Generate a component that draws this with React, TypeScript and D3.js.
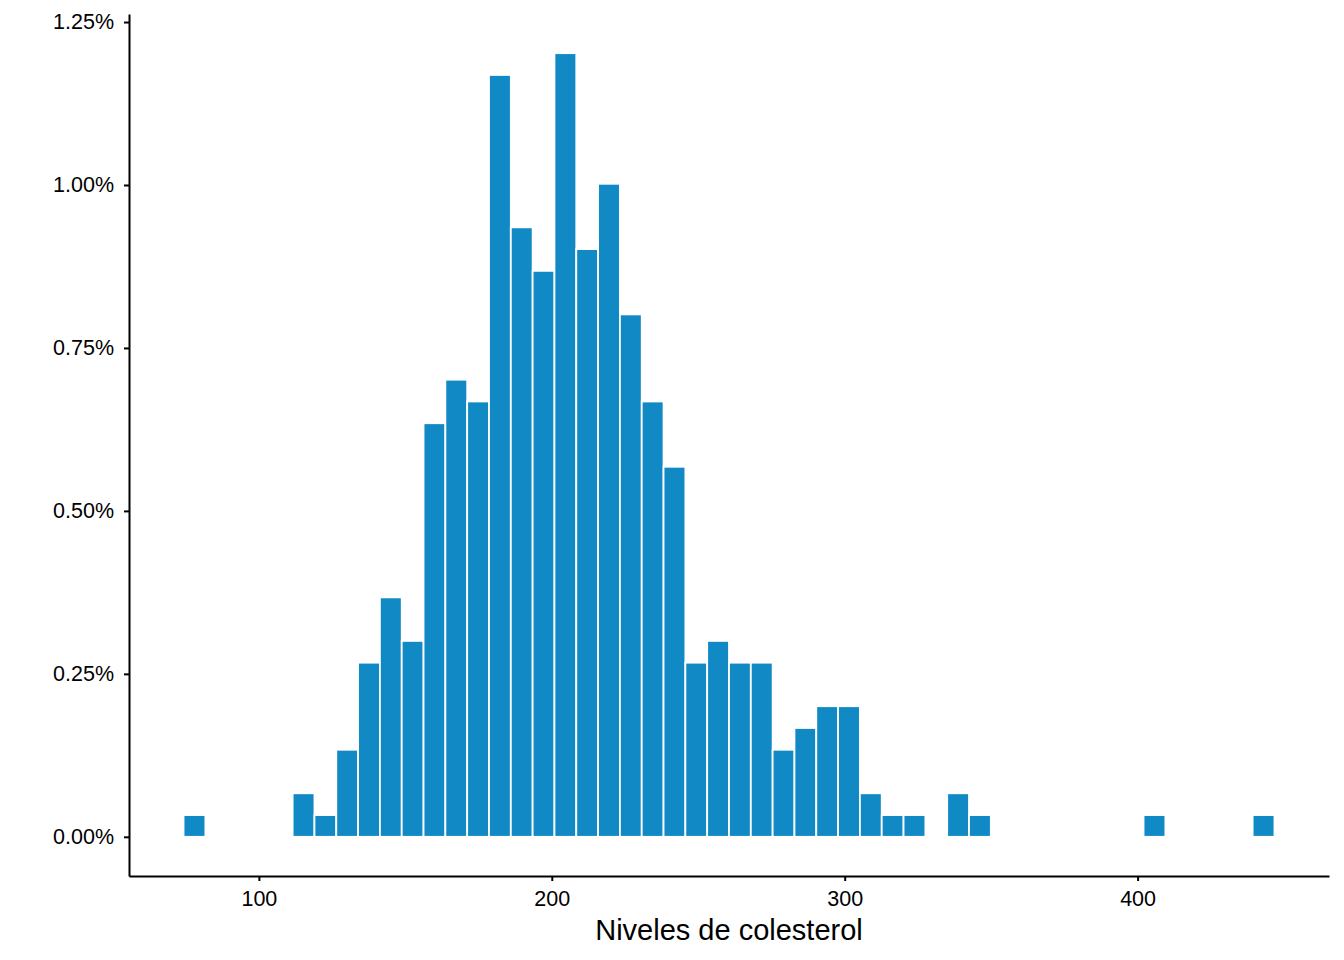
import { useEffect, useRef } from 'react';
import * as d3 from 'd3';

// histogram of cholesterol levels, 50 bins between min and max
const cholMin = 78;
const cholMax = 443;
const binTotal = 50;
const binCounts = [
  1, 0, 0, 0, 0, 2, 1, 4, 8, 11,
  9, 19, 21, 20, 35, 28, 26, 36, 27, 30,
  24, 20, 17, 8, 9, 8, 8, 4, 5, 6,
  6, 2, 1, 1, 0, 2, 1, 0, 0, 0,
  0, 0, 0, 0, 1, 0, 0, 0, 0, 1,
];
const xTicks = [100, 200, 300, 400];
const yTicks = [0, 0.0025, 0.005, 0.0075, 0.01, 0.0125];
const xTitle = 'Niveles de colesterol';

const width = 1344;
const height = 960;
const margin = { top: 14, right: 15, bottom: 84, left: 129 };

export default function App() {
  const svgRef = useRef<SVGSVGElement>(null);

  useEffect(() => {
    if (!svgRef.current) return;
    const svg = d3.select(svgRef.current);
    svg.selectAll('*').remove();

    const binWidth = (cholMax - cholMin) / (binTotal - 1);
    const n = d3.sum(binCounts);
    const bins = binCounts.map((c, i) => {
      const x0 = cholMin - binWidth / 2 + i * binWidth;
      return { x0, x1: x0 + binWidth, density: c / (n * binWidth), count: c };
    });

    // ggplot-style 5% expansion
    const xLo = bins[0].x0;
    const xHi = bins[bins.length - 1].x1;
    const xPad = (xHi - xLo) * 0.05;
    const yMax = d3.max(bins, d => d.density) as number;
    const yPad = yMax * 0.05;

    const x = d3.scaleLinear()
      .domain([xLo - xPad, xHi + xPad])
      .range([margin.left, width - margin.right]);
    const y = d3.scaleLinear()
      .domain([-yPad, yMax + yPad])
      .range([height - margin.bottom, margin.top]);

    // bars
    svg.append('g')
      .selectAll('rect')
      .data(bins.filter(b => b.count > 0))
      .join('rect')
      .attr('x', d => x(d.x0))
      .attr('width', d => x(d.x1) - x(d.x0))
      .attr('y', d => y(d.density))
      .attr('height', d => y(0) - y(d.density))
      .attr('fill', '#1189C4')
      .attr('stroke', '#ffffff')
      .attr('stroke-width', 1.8);

    const font = 'Arial, "Liberation Sans", Helvetica, sans-serif';

    // x axis
    const xAxis = svg.append('g')
      .attr('transform', `translate(0, ${height - margin.bottom})`)
      .call(d3.axisBottom(x).tickValues(xTicks).tickSizeInner(5).tickSizeOuter(0)
        .tickPadding(10).tickFormat(d3.format('d')));
    xAxis.select('.domain').attr('stroke', '#000').attr('stroke-width', 2);
    xAxis.selectAll('.tick line').attr('stroke', '#000').attr('stroke-width', 2);
    xAxis.selectAll('.tick text')
      .style('font-family', font).style('font-size', '21.5px').attr('fill', '#000');

    // y axis
    const yAxis = svg.append('g')
      .attr('transform', `translate(${margin.left}, 0)`)
      .call(d3.axisLeft(y).tickValues(yTicks).tickSizeInner(5).tickSizeOuter(0)
        .tickPadding(10).tickFormat(d3.format('.2%')));
    yAxis.select('.domain').attr('stroke', '#000').attr('stroke-width', 2);
    yAxis.selectAll('.tick line').attr('stroke', '#000').attr('stroke-width', 2);
    yAxis.selectAll('.tick text')
      .style('font-family', font).style('font-size', '21.5px').attr('fill', '#000');

    // axis title
    svg.append('text')
      .attr('x', (margin.left + width - margin.right) / 2)
      .attr('y', 940)
      .attr('text-anchor', 'middle')
      .style('font-family', font)
      .style('font-size', '29px')
      .attr('fill', '#000')
      .text(xTitle);
  }, []);

  return (
    <svg
      ref={svgRef}
      width={width}
      height={height}
      style={{ display: 'block', position: 'absolute', left: 0, top: 0, background: '#fff' }}
    />
  );
}
